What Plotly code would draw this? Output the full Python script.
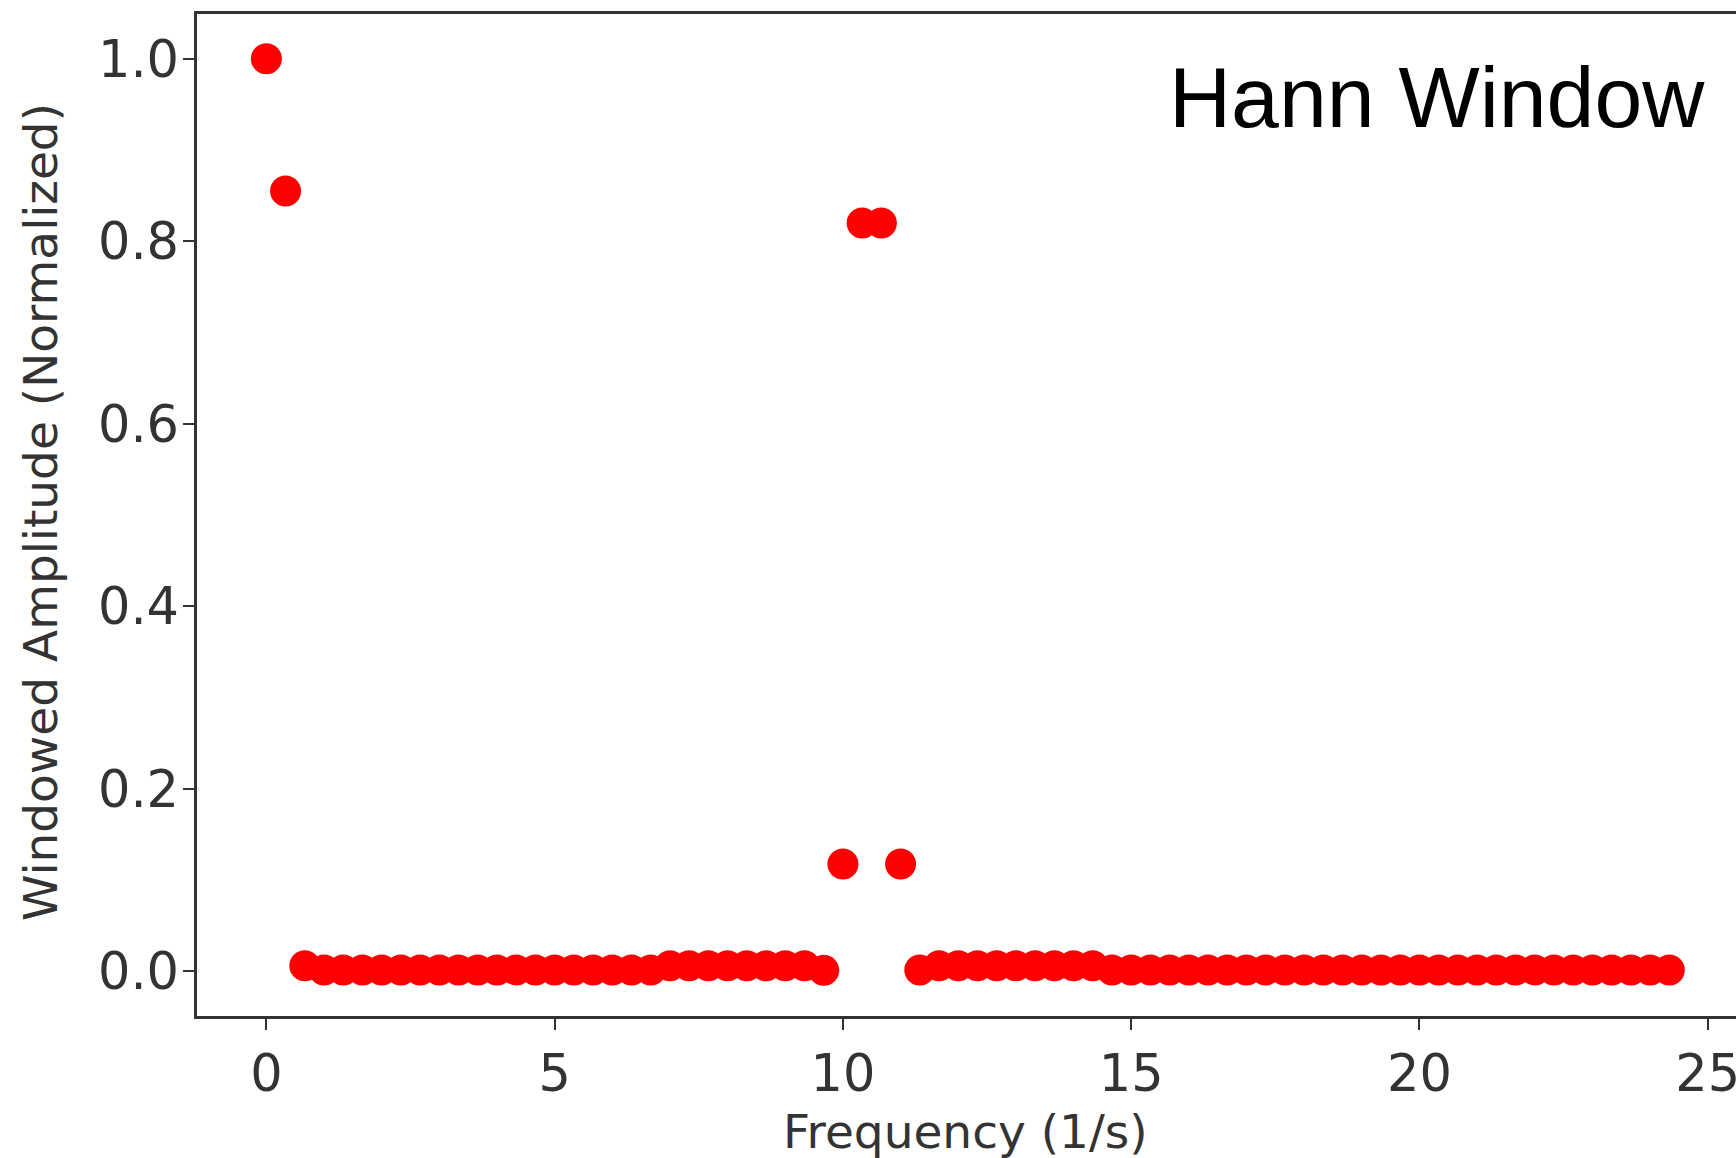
import plotly.graph_objects as go

# Frequency bins (1/s)
frequency = [
    0.0, 0.333, 0.667, 1.0, 1.333, 1.667, 2.0, 2.333, 2.667, 3.0,
    3.333, 3.667, 4.0, 4.333, 4.667, 5.0, 5.333, 5.667, 6.0, 6.333,
    6.667, 7.0, 7.333, 7.667, 8.0, 8.333, 8.667, 9.0, 9.333, 9.667,
    10.0, 10.333, 10.667, 11.0, 11.333, 11.667, 12.0, 12.333, 12.667, 13.0,
    13.333, 13.667, 14.0, 14.333, 14.667, 15.0, 15.333, 15.667, 16.0, 16.333,
    16.667, 17.0, 17.333, 17.667, 18.0, 18.333, 18.667, 19.0, 19.333, 19.667,
    20.0, 20.333, 20.667, 21.0, 21.333, 21.667, 22.0, 22.333, 22.667, 23.0,
    23.333, 23.667, 24.0, 24.333,
]

# Windowed amplitude (normalized)
amplitude = [
    1.0, 0.855, 0.006, 0.0015, 0.0015, 0.0015, 0.0015, 0.0015, 0.0015, 0.0015,
    0.0015, 0.0015, 0.0015, 0.0015, 0.0015, 0.0015, 0.0015, 0.0015, 0.0015, 0.0015,
    0.0015, 0.006, 0.006, 0.006, 0.006, 0.006, 0.006, 0.006, 0.006, 0.001,
    0.1175, 0.82, 0.82, 0.1175, 0.0015, 0.006, 0.006, 0.006, 0.006, 0.006,
    0.006, 0.006, 0.006, 0.006, 0.0015, 0.0015, 0.0015, 0.0015, 0.0015, 0.0015,
    0.0015, 0.0015, 0.0015, 0.0015, 0.0015, 0.0015, 0.0015, 0.0015, 0.0015, 0.0015,
    0.0015, 0.0015, 0.0015, 0.0015, 0.0015, 0.0015, 0.0015, 0.0015, 0.0015, 0.0015,
    0.0015, 0.0015, 0.0015, 0.0015,
]

x_ticks = [0, 5, 10, 15, 20, 25]
y_ticks = [0.0, 0.2, 0.4, 0.6, 0.8, 1.0]
y_tick_labels = ["0.0", "0.2", "0.4", "0.6", "0.8", "1.0"]

title_text = "Hann Window"
x_label = "Frequency (1/s)"
y_label = "Windowed Amplitude (Normalized)"

W, H = 1736, 1158
L, R, T, B = 197, 0, 14, 142
PW, PH = W - L - R, H - T - B

tick_font = dict(family="DejaVu Sans", size=51, color="#333333")
label_font = dict(family="DejaVu Sans", size=47, color="#333333")

fig = go.Figure()
fig.add_trace(go.Scatter(
    x=frequency, y=amplitude, mode="markers",
    marker=dict(color="#ff0000", size=31, line=dict(width=0)),
    showlegend=False, hoverinfo="x+y",
))

fig.update_layout(
    width=W, height=H,
    margin=dict(l=L, r=R, t=T, b=B, autoexpand=False),
    paper_bgcolor="white", plot_bgcolor="white",
    xaxis=dict(
        range=[-1.203, 25.49],
        tickvals=x_ticks,
        ticks="outside", ticklen=11, tickwidth=2, tickcolor="#333333",
        showline=True, linecolor="#333333", linewidth=2.5, mirror=True,
        showgrid=False, zeroline=False, automargin=False,
        tickfont=tick_font, ticklabeloverflow="allow",
    ),
    yaxis=dict(
        range=[-0.049, 1.049],
        tickvals=y_ticks, ticktext=y_tick_labels,
        ticks="outside", ticklen=11, tickwidth=2, tickcolor="#333333",
        showline=True, linecolor="#333333", linewidth=2.5, mirror=False,
        showgrid=False, zeroline=False, automargin=False,
        tickfont=tick_font, ticklabelstandoff=-6,
    ),
    annotations=[
        dict(
            text=title_text, xref="paper", yref="paper",
            x=(1167 - L) / PW, y=1 - (97 - T) / PH,
            xanchor="left", yanchor="middle", showarrow=False,
            font=dict(family="Liberation Sans, Arial", size=86, color="black"),
        ),
        dict(
            text=x_label, xref="paper", yref="paper",
            x=(965 - L) / PW, y=1 - (1131 - T) / PH,
            xanchor="center", yanchor="middle", showarrow=False,
            font=label_font,
        ),
        dict(
            text=y_label, xref="paper", yref="paper",
            x=(40 - L) / PW, y=1 - (512 - T) / PH,
            xanchor="center", yanchor="middle", showarrow=False,
            textangle=-90, font=label_font,
        ),
    ],
)

fig.write_html(
    "out.html",
    config={"displayModeBar": False},
    post_script="document.body.style.margin='0';document.body.style.padding='0';",
)
